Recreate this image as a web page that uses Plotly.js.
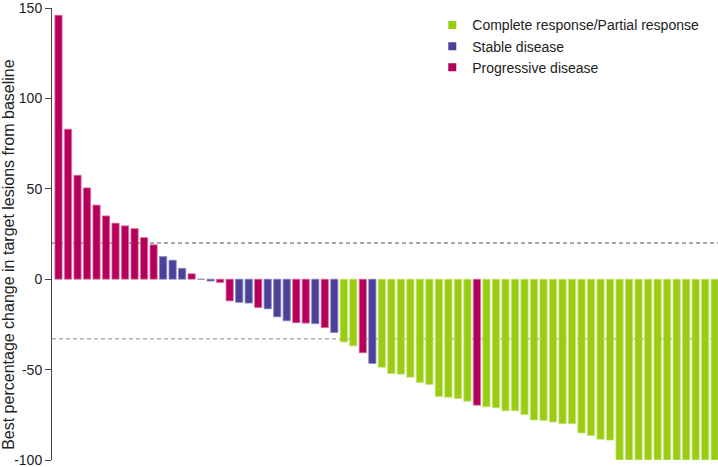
<!DOCTYPE html>
<html>
<head>
<meta charset="utf-8">
<script src="https://cdn.plot.ly/plotly-3.0.1.min.js"></script>
<style>html,body{margin:0;padding:0;background:#fff}#chart{width:718px;height:467px}</style>
</head>
<body>
<div id="chart"></div>
<script>
// Best percentage change per patient (sorted, waterfall order)
const changeValues = [
  146, 83, 57.5, 50.5, 41, 35, 31, 29.5, 28, 23,
  19, 12.5, 10.5, 6, 3, 0, -1, -1.8, -12, -12.8,
  -13.2, -15.7, -16.4, -20.8, -23, -24.1, -24.3, -24.6, -26.8, -29.5,
  -34.7, -36.9, -40.7, -46.6, -48.7, -52.2, -52.5, -54.2, -57.1, -58.2,
  -64.9, -65.3, -66, -67.5, -69.7, -70.6, -71.1, -72.8, -72.8, -74.9,
  -77.9, -78.1, -79, -79.9, -79.9, -85, -86.4, -88.5, -89, -100,
  -100, -100, -100, -100, -100, -100, -100, -100, -100, -100
];
// Best overall response per patient
const responses = [
  'PD','PD','PD','PD','PD','PD','PD','PD','PD','PD',
  'PD','SD','SD','SD','PD','SD','SD','PD','PD','SD',
  'SD','PD','SD','SD','SD','PD','PD','SD','PD','SD',
  'CR','CR','PD','SD','CR','CR','CR','CR','CR','CR',
  'CR','CR','CR','CR','PD','CR','CR','CR','CR','CR',
  'CR','CR','CR','CR','CR','CR','CR','CR','CR','CR',
  'CR','CR','CR','CR','CR','CR','CR','CR','CR','CR'
];
const responseCodes = ['CR', 'SD', 'PD'];
const responseLabels = ['Complete response/Partial response', 'Stable disease', 'Progressive disease'];
const responseColors = ['#99cc12', '#4a4298', '#b4005a'];
const responseEdges = ['#c4e472', '#8a85c4', '#dc70a3'];
const thresholdUpper = 20;
const thresholdLower = -33;
const yTickVals = [-100, -50, 0, 50, 100, 150];

const font = 'Liberation Sans, Arial, Helvetica, sans-serif';
const traces = [];
responseCodes.forEach((code, k) => {
  const xs = [], ys = [];
  changeValues.forEach((v, i) => {
    if (responses[i] === code) { xs.push(i + 1); ys.push(v); }
  });
  traces.push({
    type: 'bar', x: xs, y: ys, name: responseLabels[k], showlegend: false,
    marker: {color: responseColors[k], line: {color: responseEdges[k], width: 0.8}},
    hoverinfo: 'x+y'
  });
});
responseCodes.forEach((code, k) => {
  traces.push({
    type: 'scatter', mode: 'markers', x: [null], y: [null], name: responseLabels[k],
    legendgroup: code, showlegend: true,
    marker: {symbol: 'square', size: 8, color: responseColors[k]}
  });
});

const layout = {
  width: 718, height: 467,
  margin: {l: 52, r: 0, t: 8, b: 7, pad: 0},
  paper_bgcolor: '#fff', plot_bgcolor: '#fff',
  font: {family: font, size: 14, color: '#222'},
  barmode: 'overlay', bargap: 0.24,
  xaxis: {range: [0.317, 70.35], visible: false, fixedrange: true},
  yaxis: {
    range: [-100, 150], tickvals: yTickVals, ticktext: yTickVals.map(String),
    showline: true, linecolor: '#444', linewidth: 1,
    ticks: 'outside', ticklen: 6, tickcolor: '#444', tickwidth: 1,
    showgrid: false, zeroline: false, ticklabeloverflow: 'allow',
    tickfont: {family: font, size: 14, color: '#222'}
  },
  showlegend: true,
  legend: {
    x: 0.571, xanchor: 'left', y: 0.997, yanchor: 'top',
    font: {family: font, size: 14, color: '#222'},
    tracegroupgap: 4, bgcolor: 'rgba(0,0,0,0)', traceorder: 'normal'
  },
  shapes: [
    {type: 'line', xref: 'paper', x0: 0, x1: 1, yref: 'y', y0: thresholdUpper, y1: thresholdUpper,
     layer: 'below', line: {color: '#555', width: 1, dash: '4px,3px'}},
    {type: 'line', xref: 'paper', x0: 0, x1: 1, yref: 'y', y0: thresholdLower, y1: thresholdLower,
     layer: 'below', line: {color: '#888', width: 1, dash: '4px,3px'}}
  ],
  annotations: [{
    text: 'Best percentage change in target lesions from baseline',
    xref: 'paper', yref: 'paper', x: -0.0653, y: 0.455, xanchor: 'center', yanchor: 'middle',
    textangle: -90, showarrow: false, font: {family: font, size: 16, color: '#222'}
  }]
};
Plotly.newPlot('chart', traces, layout, {displayModeBar: false, staticPlot: true});
</script>
</body>
</html>
